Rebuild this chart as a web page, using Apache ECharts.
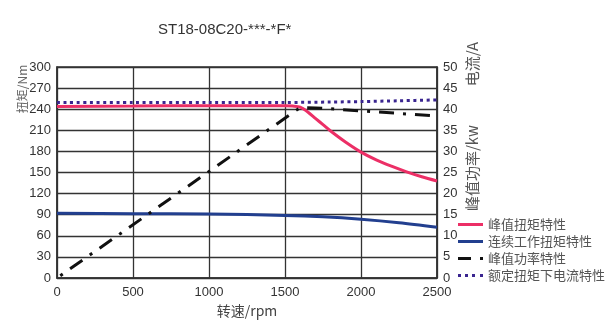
<!DOCTYPE html>
<html>
<head>
<meta charset="utf-8">
<script src="https://cdn.jsdelivr.net/npm/echarts@6/dist/echarts.min.js"></script>
<style>
html,body{margin:0;padding:0;background:#fff;}
#c{width:613px;height:329px;}
</style>
</head>
<body>
<div id="c"></div>
<script>
// ---- data ----
var titleText = 'ST18-08C20-***-*F*';
var xTicks = [0, 500, 1000, 1500, 2000, 2500];
var leftTicks = [0, 30, 60, 90, 120, 150, 180, 210, 240, 270, 300];
var rightTicks = [0, 5, 10, 15, 20, 25, 30, 35, 40, 45, 50];

var peakTorqueRpm = [0, 500, 1000, 1500, 1550, 1600, 1650, 1700, 1750, 1800, 1900, 2000, 2100, 2200, 2300, 2400, 2500];
var peakTorque    = [244, 244.5, 245, 245, 244.5, 243, 236, 227, 218, 209, 193, 179, 168, 159, 151, 144, 138];

var contTorqueRpm = [0, 500, 1000, 1500, 1750, 2000, 2250, 2500];
var contTorque    = [92, 91.5, 91, 89, 87, 83.5, 78.5, 72];

var powerRpm = [0, 1600, 1700, 1800, 2000, 2250, 2500];
var peakPower = [0, 40.4, 40.3, 40.1, 39.6, 39.0, 38.4];

var currentRpm = [0, 500, 1000, 1500, 1800, 2000, 2250, 2500];
var ratedCurrent = [41.6, 41.6, 41.6, 41.6, 41.7, 41.8, 42.0, 42.2];

var seriesNames = ['峰值扭矩特性', '连续工作扭矩特性', '峰值功率特性', '额定扭矩下电流特性'];

function pairs(xs, ys){ return xs.map(function(x,i){ return [x, ys[i]]; }); }

var FONT = '"Liberation Sans", Arial, "Noto Sans CJK SC", sans-serif';
var CJK = '"Noto Sans CJK SC", "Liberation Sans", sans-serif';

var ICON_SOLID = 'path://M0,0H25V3H0Z';
var ICON_DASHDOT = 'path://M0,0H13V3H0Z M22,0H25V3H22Z';
var ICON_DOT = 'path://M0,0H3V3H0Z M7,0H10V3H7Z M14,0H17V3H14Z M22,0H25V3H22Z';

var chart = echarts.init(document.getElementById('c'), null, {renderer:'canvas'});
chart.setOption({
  animation: false,
  backgroundColor: '#fff',
  title: {
    text: titleText, left: 158, top: 22, padding: 0,
    textStyle: {fontSize: 15, fontWeight: 'normal', color: '#333', fontFamily: FONT}
  },
  grid: {left: 57, right: 176, top: 67, bottom: 51, show: true, borderColor: '#333', borderWidth: 1.5, containLabel: false},
  legend: {
    orient: 'vertical', left: 458, top: 218, itemWidth: 25, itemHeight: 3, itemGap: 4,
    padding: 0,
    data: [
      {name: seriesNames[0], icon: ICON_SOLID},
      {name: seriesNames[1], icon: ICON_SOLID},
      {name: seriesNames[2], icon: ICON_DASHDOT},
      {name: seriesNames[3], icon: ICON_DOT}
    ],
    itemStyle: {borderWidth: 0},
    textStyle: {fontSize: 13, color: '#555', fontFamily: CJK}
  },
  xAxis: {
    type: 'value', min: xTicks[0], max: xTicks[xTicks.length-1], interval: 500,
    name: '转速/rpm', nameLocation: 'middle', nameGap: 26,
    nameTextStyle: {fontSize: 14, color: '#444', fontFamily: CJK},
    axisLine: {show: true, lineStyle: {color: '#333', width: 1.5}},
    axisTick: {show: false},
    axisLabel: {fontSize: 13, color: '#333', margin: 8, fontFamily: FONT, formatter: function(v){ return String(v); }},
    splitLine: {show: true, lineStyle: {color: '#333', width: 1.3}}
  },
  yAxis: [{
    type: 'value', min: leftTicks[0], max: leftTicks[leftTicks.length-1], interval: 30,
    axisLine: {show: true, lineStyle: {color: '#333', width: 1.5}},
    axisTick: {show: false},
    axisLabel: {fontSize: 13, color: '#333', margin: 6, fontFamily: FONT, formatter: function(v){ return String(v); }},
    splitLine: {show: true, lineStyle: {color: '#333', width: 1.3}}
  }, {
    type: 'value', min: rightTicks[0], max: rightTicks[rightTicks.length-1], interval: 5,
    position: 'right',
    axisLine: {show: true, lineStyle: {color: '#333', width: 1.5}},
    axisTick: {show: false},
    axisLabel: {fontSize: 13, color: '#333', margin: 6, fontFamily: FONT},
    splitLine: {show: false}
  }],
  series: [{
    name: seriesNames[0], type: 'line', yAxisIndex: 0, symbol: 'none', smooth: 0.3,
    data: pairs(peakTorqueRpm, peakTorque),
    lineStyle: {color: '#ec2f66', width: 3}, itemStyle: {color: '#ec2f66'}, z: 4
  }, {
    name: seriesNames[1], type: 'line', yAxisIndex: 0, symbol: 'none', smooth: 0.3,
    data: pairs(contTorqueRpm, contTorque),
    lineStyle: {color: '#223f8f', width: 3}, itemStyle: {color: '#223f8f'}, z: 4
  }, {
    name: seriesNames[2], type: 'line', yAxisIndex: 1, symbol: 'none',
    data: pairs(powerRpm, peakPower),
    lineStyle: {color: '#111', width: 3, type: [15, 9, 3, 9], dashOffset: 20}, itemStyle: {color: '#111'}, z: 5
  }, {
    name: seriesNames[3], type: 'line', yAxisIndex: 1, symbol: 'none', smooth: 0.3,
    data: pairs(currentRpm, ratedCurrent),
    lineStyle: {color: '#3a2590', width: 3, type: [3, 3.6]}, itemStyle: {color: '#3a2590'}, z: 6
  }],
  graphic: [{
    type: 'text', x: 22, y: 89, rotation: Math.PI/2,
    style: {text: '扭矩/Nm', font: '12px ' + CJK, fill: '#666', align: 'center', verticalAlign: 'middle'}
  }, {
    type: 'text', x: 472, y: 64, rotation: Math.PI/2,
    style: {text: '电流/A', font: '15px ' + CJK, fill: '#555', align: 'center', verticalAlign: 'middle'}
  }, {
    type: 'text', x: 472, y: 168, rotation: Math.PI/2,
    style: {text: '峰值功率/kw', font: '15px ' + CJK, fill: '#555', align: 'center', verticalAlign: 'middle'}
  }]
});
</script>
</body>
</html>
